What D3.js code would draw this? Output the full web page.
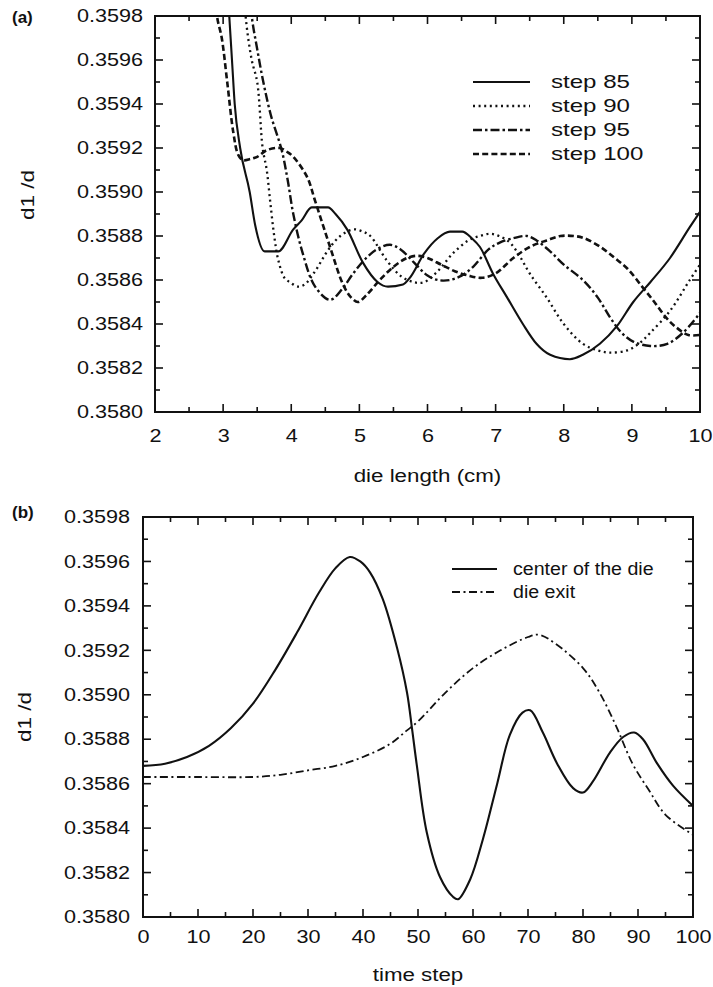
<!DOCTYPE html>
<html>
<head>
<meta charset="utf-8">
<script src="https://cdn.jsdelivr.net/npm/d3@7"></script>
<style>
  body { margin: 0; background: #fff; }
  text { font-family: "Liberation Sans", Arial, sans-serif; fill: #111; }
</style>
</head>
<body>
<svg id="chart"></svg>
<script>
// ---- panel (a): d1/d along the die, four time steps ----
const step85 = [[3.05,0.3600],[3.09,0.3598],[3.13,0.3596],[3.17,0.3594],[3.25,0.3592],[3.39,0.3590],[3.47,0.35885],
  [3.61,0.35873],[3.81,0.35873],[4.03,0.35883],[4.15,0.35887],[4.3,0.35893],[4.54,0.35893],[4.65,0.3589],
  [4.82,0.35883],[5.05,0.35868],[5.27,0.35859],[5.42,0.35857],[5.64,0.35858],[5.74,0.35861],[5.95,0.35872],
  [6.15,0.35879],[6.33,0.35882],[6.51,0.35882],[6.65,0.35879],[6.77,0.35875],[6.96,0.35863],[7.17,0.35852],
  [7.4,0.3584],[7.6,0.35831],[7.8,0.35826],[8.09,0.35824],[8.28,0.35826],[8.53,0.35831],[8.78,0.35839],
  [9.02,0.3585],[9.27,0.35859],[9.56,0.3587],[9.85,0.35884],[10,0.35891]];
const step90 = [[3.3,0.3600],[3.33,0.3598],[3.42,0.3596],[3.5,0.3595],[3.58,0.3592],[3.64,0.3591],[3.69,0.35896],
  [3.75,0.3588],[3.81,0.35869],[3.9,0.35861],[3.98,0.35859],[4.1,0.35857],[4.2,0.35858],[4.35,0.35864],
  [4.55,0.35874],[4.72,0.3588],[4.91,0.35883],[5.05,0.35882],[5.16,0.3588],[5.4,0.35869],[5.6,0.35862],
  [5.8,0.35859],[5.95,0.35859],[6.15,0.35864],[6.37,0.35872],[6.6,0.35878],[6.77,0.3588],[6.92,0.35881],
  [7.05,0.3588],[7.21,0.35877],[7.35,0.35871],[7.5,0.35863],[7.75,0.35852],[8.0,0.3584],[8.28,0.35831],
  [8.5,0.35828],[8.68,0.35827],[8.93,0.35828],[9.1,0.35831],[9.27,0.35836],[9.56,0.35846],[9.85,0.3586],[10,0.35867]];
const step95 = [[3.38,0.3600],[3.42,0.3598],[3.5,0.35965],[3.59,0.3595],[3.7,0.35935],[3.86,0.35919],[3.95,0.35905],
  [4.03,0.3589],[4.17,0.35872],[4.35,0.35857],[4.57,0.35851],[4.75,0.35856],[4.91,0.35863],[5.1,0.3587],
  [5.26,0.35874],[5.45,0.35876],[5.6,0.35874],[5.8,0.35868],[6.0,0.35862],[6.15,0.3586],[6.33,0.3586],
  [6.5,0.35862],[6.67,0.35866],[6.9,0.35874],[7.06,0.35877],[7.26,0.35879],[7.46,0.3588],[7.6,0.35878],
  [7.8,0.35873],[8.0,0.35867],[8.28,0.3586],[8.5,0.35852],[8.68,0.35843],[8.85,0.35836],[9.02,0.35832],
  [9.27,0.3583],[9.52,0.35831],[9.75,0.35836],[10,0.35845]];
const step100 = [[2.88,0.3600],[2.91,0.3598],[2.98,0.3597],[3.06,0.3595],[3.15,0.35927],[3.22,0.35917],[3.29,0.359145],
  [3.4,0.35915],[3.5,0.35916],[3.64,0.35919],[3.83,0.3592],[3.95,0.35918],[4.03,0.35916],[4.23,0.35907],
  [4.35,0.35896],[4.57,0.35875],[4.76,0.35858],[4.88,0.35852],[4.98,0.3585],[5.1,0.35853],[5.3,0.3586],
  [5.5,0.35866],[5.7,0.3587],[5.85,0.35871],[6.0,0.3587],[6.2,0.35867],[6.4,0.35864],[6.6,0.35862],
  [6.8,0.35861],[7.0,0.35863],[7.26,0.3587],[7.5,0.35875],[7.75,0.35878],[7.95,0.3588],[8.15,0.3588],
  [8.3,0.35879],[8.54,0.35875],[8.75,0.3587],[8.94,0.35865],[9.15,0.35857],[9.33,0.3585],[9.5,0.35843],
  [9.63,0.35839],[9.83,0.35835],[10,0.35835]];

// ---- panel (b): d1/d against time step ----
const centerDie = [[0,0.35868],[4,0.35869],[8,0.35872],[12,0.35877],[16,0.35885],[20,0.35896],[24,0.35911],
  [28,0.35928],[32,0.35946],[35,0.35957],[37.6,0.35962],[39.5,0.3596],[41.3,0.35955],[43.6,0.35943],
  [46.2,0.35921],[48,0.35901],[48.9,0.35885],[49.8,0.35868],[51.6,0.35838],[54,0.35818],[56.4,0.35809],
  [57.3,0.35808],[59.5,0.35817],[61.8,0.35835],[64.4,0.3586],[66.7,0.35882],[69,0.35892],[70.4,0.35893],
  [72.7,0.35883],[75.3,0.35869],[78.2,0.35858],[80,0.35856],[81.8,0.35861],[84.9,0.35874],[87.3,0.35881],
  [89.3,0.35883],[90.9,0.3588],[93.5,0.35869],[96.4,0.35859],[100,0.3585]];
const dieExit = [[0,0.35863],[10,0.35863],[20,0.35863],[25,0.35864],[30,0.35866],[35,0.35868],[40,0.35872],
  [45,0.35878],[48,0.35884],[50,0.35888],[55,0.35901],[60,0.35912],[65,0.3592],[70,0.35926],[72,0.35927],
  [75,0.35923],[80,0.35912],[83,0.35901],[86,0.35886],[89,0.35869],[92,0.35857],[95,0.35846],[100,0.35837]];

// ticks
const yTicks = [0.3580, 0.3582, 0.3584, 0.3586, 0.3588, 0.3590, 0.3592, 0.3594, 0.3596, 0.3598];
const yMinor = [0.3581, 0.3583, 0.3585, 0.3587, 0.3589, 0.3591, 0.3593, 0.3595, 0.3597];
const xTicksA = [2, 3, 4, 5, 6, 7, 8, 9, 10];
const xMinorA = [2.5, 3.5, 4.5, 5.5, 6.5, 7.5, 8.5, 9.5];
const xTicksB = [0, 10, 20, 30, 40, 50, 60, 70, 80, 90, 100];
const xMinorB = [5, 15, 25, 35, 45, 55, 65, 75, 85, 95];

const legendA = ["step 85", "step 90", "step 95", "step 100"];
const legendB = ["center of the die", "die exit"];

const smooth = d3.curveCatmullRom.alpha(0.5);
const styles = {
  solid:   {w: 2.1, dash: null, curve: d3.curveMonotoneX},
  dotted:  {w: 2.3, dash: "2,3.6", curve: smooth},
  dashdot: {w: 2.4, dash: "9,3,2.5,3", curve: smooth},
  dashed:  {w: 2.6, dash: "6,3.2", curve: smooth},
  dashdotThin: {w: 1.8, dash: "8,3.5,2,3.5", curve: smooth},
  solidB:  {w: 2.1, dash: null, curve: smooth}
};

const svg = d3.select("#chart").attr("width", 713).attr("height", 987);

// stretch text horizontally, the scanned lettering is wide
function stretch(sel, k) {
  sel.each(function() {
    const w = this.getComputedTextLength();
    d3.select(this).attr("textLength", w * k).attr("lengthAdjust", "spacingAndGlyphs");
  });
}

function panel(o) {
  const g = svg.append("g").attr("transform", `translate(${o.left},${o.top})`);
  const x = d3.scaleLinear().domain(o.xDomain).range([0, o.w]);
  const y = d3.scaleLinear().domain([0.3580, 0.3598]).range([o.h, 0]);

  g.append("rect").attr("width", o.w).attr("height", o.h)
    .attr("fill", "none").attr("stroke", "#111").attr("stroke-width", 2);

  // tick labels from d3 axes
  const yl = g.append("g")
    .call(d3.axisLeft(y).tickValues(yTicks).tickSize(0).tickPadding(o.padY).tickFormat(d3.format(".4f")));
  const xl = g.append("g").attr("transform", `translate(0,${o.h})`)
    .call(d3.axisBottom(x).tickValues(o.xTicks).tickSize(0).tickPadding(o.padX).tickFormat(d3.format("d")));
  [yl, xl].forEach(ax => { ax.select(".domain").remove(); ax.selectAll(".tick line").remove(); });
  yl.selectAll("text").attr("font-size", 18).attr("fill", "#111");
  xl.selectAll("text").attr("font-size", 18).attr("fill", "#111").attr("dy", "0.72em");
  stretch(yl.selectAll("text"), 1.2);
  stretch(xl.selectAll("text"), 1.2);

  // inward tick marks on all four sides
  const tk = g.append("g").attr("stroke", "#111").attr("stroke-width", 1.6);
  const yMarks = yTicks.map(v => ({v, len: 8})).concat(yMinor.map(v => ({v, len: 5})));
  const xMarks = o.xTicks.map(v => ({v, len: 8})).concat(o.xMinor.map(v => ({v, len: 5})));
  tk.selectAll(".yl").data(yMarks).join("line").attr("class", "yl")
    .attr("x1", 0).attr("x2", d => d.len).attr("y1", d => y(d.v)).attr("y2", d => y(d.v));
  tk.selectAll(".yr").data(yMarks).join("line").attr("class", "yr")
    .attr("x1", o.w).attr("x2", d => o.w - d.len).attr("y1", d => y(d.v)).attr("y2", d => y(d.v));
  tk.selectAll(".xb").data(xMarks).join("line").attr("class", "xb")
    .attr("y1", o.h).attr("y2", d => o.h - d.len).attr("x1", d => x(d.v)).attr("x2", d => x(d.v));
  tk.selectAll(".xt").data(xMarks).join("line").attr("class", "xt")
    .attr("y1", 0).attr("y2", d => d.len).attr("x1", d => x(d.v)).attr("x2", d => x(d.v));

  // curves, clipped to the frame
  const clipId = "clip-" + o.name;
  svg.append("clipPath").attr("id", clipId)
    .append("rect").attr("x", o.left).attr("y", o.top).attr("width", o.w).attr("height", o.h);
  const plot = svg.append("g").attr("clip-path", `url(#${clipId})`)
    .append("g").attr("transform", `translate(${o.left},${o.top})`);
  o.series.forEach(s => {
    const st = styles[s.style];
    const line = d3.line().x(d => x(d[0])).y(d => y(d[1])).curve(st.curve);
    plot.append("path").datum(s.data)
      .attr("fill", "none").attr("stroke", "#111")
      .attr("stroke-width", st.w).attr("stroke-dasharray", st.dash)
      .attr("d", line);
  });

  // legend
  const lg = g.append("g").attr("transform", `translate(${o.legend.x},${o.legend.y})`);
  o.series.forEach((s, i) => {
    const st = styles[s.style];
    const row = lg.append("g").attr("transform", `translate(0,${i * o.legend.gap})`);
    row.append("line").attr("x1", 0).attr("x2", o.legend.len)
      .attr("stroke", "#111").attr("stroke-width", st.w).attr("stroke-dasharray", st.dash);
    const t = row.append("text").attr("x", o.legend.textX).attr("y", 6)
      .attr("font-size", o.legend.size).text(s.label);
    stretch(t, o.legend.k);
  });

  // titles
  const xt = g.append("text").attr("x", o.w / 2).attr("y", o.h + o.xTitleY)
    .attr("text-anchor", "middle").attr("font-size", 18).text(o.xTitle);
  stretch(xt, 1.24);
  const yt = g.append("text")
    .attr("transform", `translate(${o.yTitleX},${o.yTitleY}) rotate(-90)`)
    .attr("text-anchor", "middle").attr("font-size", 18).text("d1 /d");
  stretch(yt, 1.25);
  svg.append("text").attr("x", 12).attr("y", o.top + o.tagY)
    .attr("font-family", "'Liberation Serif','Times New Roman',serif")
    .attr("font-weight", "bold").attr("font-size", 17).text(o.tag);
}

panel({
  name: "a", tag: "(a)", tagY: 7, left: 155, top: 16, w: 545, h: 396, padY: 12, padX: 17,
  xDomain: [2, 10], xTicks: xTicksA, xMinor: xMinorA,
  xTitle: "die length (cm)", xTitleY: 70, yTitleX: -121, yTitleY: 179,
  series: [
    {data: step85, style: "solid", label: legendA[0]},
    {data: step90, style: "dotted", label: legendA[1]},
    {data: step95, style: "dashdot", label: legendA[2]},
    {data: step100, style: "dashed", label: legendA[3]}
  ],
  legend: {x: 318, y: 66, gap: 24, len: 57, textX: 78, size: 18.5, k: 1.3}
});

panel({
  name: "b", tag: "(b)", tagY: 1, left: 143, top: 517, w: 550, h: 400, padY: 13, padX: 13,
  xDomain: [0, 100], xTicks: xTicksB, xMinor: xMinorB,
  xTitle: "time step", xTitleY: 64, yTitleX: -112, yTitleY: 200,
  series: [
    {data: centerDie, style: "solidB", label: legendB[0]},
    {data: dieExit, style: "dashdotThin", label: legendB[1]}
  ],
  legend: {x: 309, y: 52, gap: 23, len: 45, textX: 61, size: 17.5, k: 1.12}
});
</script>
</body>
</html>
